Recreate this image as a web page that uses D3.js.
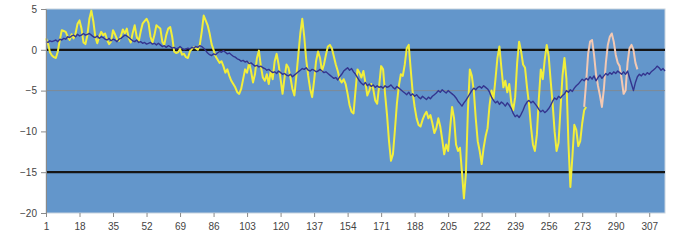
<!DOCTYPE html>
<html>
<head>
<meta charset="utf-8">
<script src="https://cdn.jsdelivr.net/npm/d3@7"></script>
<style>
  body { margin: 0; background: #fff; }
  text { font-family: "Liberation Sans", Arial, sans-serif; }
</style>
</head>
<body>
<div id="chart"></div>
<script>

const xTickLabels = [1, 18, 35, 52, 69, 86, 103, 120, 137, 154, 171, 188, 205, 222, 239, 256, 273, 290, 307];
const yTicks = [5, 0, -5, -10, -15, -20];
const boldLevels = [0, -15];
const thinLevels = [-5];
const nPoints = 315;

// yellow series, points 1..275
const yellowValues = [
  1.4, 0.8, -0.3, -0.7, -0.9, -1.0, -0.2, 1.2, 2.4, 2.3,
  2.2, 1.6, 1.2, 1.9, 1.4, 2.0, 3.2, 3.6, 2.6, 0.9,
  0.7, 1.8, 3.8, 4.8, 3.5, 1.6, 0.8, 1.6, 2.2, 1.8,
  2.0, 1.2, 0.7, 1.0, 2.4, 1.9, 1.3, 1.1, 1.7, 2.5,
  2.0, 2.6, 1.4, 0.9, 2.1, 3.0, 1.6, 1.0, 2.2, 3.2,
  3.5, 3.8, 3.3, 1.6, 0.9, 1.8, 3.0, 2.8, 2.6, 1.0,
  0.6, 1.8, 2.6, 2.8, 1.6, -0.2, -0.4, -0.3, 0.1, -0.6,
  -0.5, -0.9, -1.0, -0.2, 0.1, 0.3, 0.2, 0.0, 0.6, 2.2,
  4.2, 3.6, 3.0, 2.0, 0.7, 0.0, -0.8, -1.2, -1.6, -1.4,
  -2.0, -2.8, -2.4, -3.2, -3.8, -4.2, -4.6, -5.2, -5.4, -4.8,
  -3.6, -2.4, -2.8, -1.6, -2.6, -4.0, -3.0, -1.0, -0.1, -2.0,
  -3.4, -3.8, -3.0, -4.2, -2.6, -3.6, -1.4, -0.5, -1.8, -3.6,
  -5.4, -3.4, -1.8, -2.2, -3.4, -4.8, -5.6, -3.2, -0.6, 2.0,
  3.8, 1.6, -1.2, -3.2, -4.8, -5.8, -3.8, -1.4, -0.2, -1.0,
  -2.6, -1.8, -0.6, 0.4, 0.6, 0.2, -0.8, -1.8, -2.6, -3.6,
  -4.0, -3.6, -4.2, -5.4, -6.8, -7.6, -7.8, -5.0, -2.4, -2.8,
  -3.4, -2.6, -4.0, -5.6, -5.0, -4.2, -4.8, -6.2, -6.6, -4.4,
  -2.0, -2.4, -5.4, -8.0, -11.2, -13.6, -12.8, -9.8, -6.6, -4.4,
  -3.0, -3.2, -1.8, 0.2, 0.6, -2.4, -5.2, -7.0, -8.4, -9.2,
  -9.4, -8.6, -8.0, -7.6, -8.4, -8.0, -9.0, -10.2, -9.6, -8.4,
  -9.4, -11.0, -12.8, -11.6, -12.4, -9.6, -7.0, -8.4, -11.6, -12.4,
  -12.0, -15.0, -18.2, -15.2, -7.6, -2.4, -3.2, -5.0, -8.4, -11.2,
  -12.4, -14.0, -12.0, -10.6, -9.6, -6.8, -5.0, -6.0, -3.6, -1.0,
  0.4, -2.2, -4.6, -3.8, -5.2, -4.2, -6.4, -7.4, -5.8, -1.6,
  1.0, -0.2, -1.8, -2.2, -4.6, -6.6, -9.4, -11.6, -12.4, -10.4,
  -6.0, -2.4, -3.6, -1.2, 0.6, -0.8, -3.8, -6.6, -10.0, -12.4,
  -11.4, -7.2, -3.2, -1.0, -3.6, -11.4, -16.8, -13.2, -9.2, -9.8,
  -11.8, -11.2, -9.0, -7.4, -7.0
];

// pale pink series, points 274..301
const pinkStart = 274;
const pinkValues = [
  -7.0, -4.0, -0.5, 1.0, 1.2, -0.6, -3.0, -4.4, -5.6, -7.0,
  -4.8, -1.6, 0.6, 1.6, 2.0, 1.0, -0.6, -1.6, -2.0, -3.6,
  -5.4, -5.0, -1.6, 0.2, 0.6, 0.0, -1.6, -2.4
];

// navy smoothed series, points 1..315
const navyValues = [
  1.0, 0.9, 1.1, 1.0, 1.1, 1.2, 1.0, 1.3, 1.2, 1.4,
  1.3, 1.6, 1.5, 1.7, 1.8, 1.6, 1.9, 1.7, 1.8, 2.0,
  1.8, 1.9, 2.0, 1.8, 1.6, 1.5, 1.7, 1.4, 1.6, 1.5,
  1.3, 1.2, 1.4, 1.1, 1.3, 1.2, 1.0, 1.3, 1.4, 1.6,
  1.8, 1.7, 1.5, 1.3, 1.1, 1.0, 1.2, 0.9, 1.0, 0.8,
  0.9, 0.7, 0.8, 0.9, 0.7, 0.8, 0.6, 0.8, 0.6, 0.4,
  0.5, 0.3, 0.5, 0.4, 0.2, 0.3, 0.1, 0.2, 0.4, 0.2,
  0.0, 0.1, 0.2, 0.1, 0.3, 0.2, 0.4, 0.3, 0.5, 0.4,
  0.2, -0.1, -0.4, -0.6, -0.7, -0.5, -0.6, -0.4, -0.2, -0.3,
  -0.1, -0.3, -0.5, -0.4, -0.6, -0.8, -0.9, -1.1, -1.2, -1.4,
  -1.3, -1.5, -1.4, -1.7, -1.6, -1.8, -2.0, -1.9, -2.1, -2.0,
  -2.2, -2.3, -2.5, -2.4, -2.6, -2.8, -2.7, -2.9, -2.6, -2.8,
  -3.0, -2.9, -3.1, -3.2, -3.0, -3.3, -3.1, -2.9, -2.7, -2.5,
  -2.3, -2.4, -2.2, -2.5, -2.6, -2.4, -2.5, -2.7, -2.6, -2.4,
  -2.6, -2.8, -2.7, -2.9, -3.1, -3.3, -3.5, -3.4, -3.7, -3.3,
  -3.0, -2.6, -2.4, -2.2, -2.5, -2.3, -2.7, -3.0, -3.4, -3.8,
  -4.1, -4.3, -4.0, -4.4, -4.2, -4.5, -4.3, -4.6, -4.4, -4.6,
  -4.5, -4.7, -4.4, -4.6, -4.5, -4.3, -4.6, -4.8, -4.5, -4.7,
  -4.9, -5.1, -5.3, -5.5, -5.2, -5.6, -5.4, -5.7, -5.5, -5.8,
  -6.0, -5.7, -5.9, -6.1, -5.8, -6.0, -5.7, -5.5, -5.3, -5.0,
  -5.2, -4.9, -5.1, -5.3, -5.0, -5.2, -5.4, -5.6, -5.9, -6.3,
  -6.6, -6.9, -6.5, -6.2, -5.8, -5.4, -5.0, -4.7, -4.9, -4.6,
  -4.5, -4.7, -4.4, -4.6, -4.8, -5.2, -5.8, -6.2, -6.5, -6.3,
  -6.7, -6.4, -6.6, -6.9, -6.5, -6.8, -7.2, -7.8, -8.2, -8.0,
  -8.3, -7.9, -7.4, -6.8, -6.4, -6.2, -6.5, -6.3, -6.6, -6.9,
  -7.3, -7.6, -7.4, -7.7, -7.5, -7.2, -6.8, -6.3, -5.9, -6.1,
  -5.7, -5.9, -5.6, -5.4, -5.0, -5.2, -4.9, -5.1, -4.7, -4.4,
  -4.2, -3.9, -3.6, -3.8, -3.5, -3.7, -3.3, -3.6, -3.2, -3.8,
  -3.4, -3.1, -3.5, -3.2, -2.9, -3.1, -2.8, -3.0, -2.7, -2.9,
  -2.6, -2.8, -3.0, -2.7, -3.0, -2.6, -3.4, -4.2, -5.0, -4.0,
  -3.3, -3.0, -3.2, -2.9, -3.1, -2.8, -3.0, -2.7, -2.5, -2.3,
  -2.0, -2.2, -2.5, -2.3, -2.6
];

const W = 675, H = 241;
const margin = { top: 9, right: 10, bottom: 28, left: 46 };
const width = W - margin.left - margin.right,
      height = H - margin.top - margin.bottom;

let x = d3.scaleLinear().domain([1, nPoints]).range([0, width]);
let y = d3.scaleLinear().domain([-20, 5]).range([height, 0]);

let svg = d3.select("#chart")
  .append("svg")
  .attr("width", W)
  .attr("height", H)
  .append("g")
  .attr("transform", "translate(" + margin.left + "," + margin.top + ")");

// plot area
svg.append("rect")
  .attr("x", 0).attr("y", 0)
  .attr("width", width).attr("height", height)
  .attr("fill", "#6396cb")
  .attr("stroke", "#c8d3de")
  .attr("stroke-width", 1);

// reference lines
svg.selectAll(".thin")
  .data(thinLevels)
  .enter().append("line")
  .attr("x1", 0).attr("x2", width)
  .attr("y1", d => y(d)).attr("y2", d => y(d))
  .attr("stroke", "#7f8a96")
  .attr("stroke-width", 1);

svg.selectAll(".bold")
  .data(boldLevels)
  .enter().append("line")
  .attr("x1", 0).attr("x2", width)
  .attr("y1", d => y(d)).attr("y2", d => y(d))
  .attr("stroke", "#151515")
  .attr("stroke-width", 2.2);

let line = d3.line()
  .x(d => x(d.i))
  .y(d => y(d.v));

const yellowData = yellowValues.map((v, k) => ({ i: k + 1, v: v }));
const pinkData = pinkValues.map((v, k) => ({ i: k + pinkStart, v: v }));
const navyData = navyValues.map((v, k) => ({ i: k + 1, v: v }));

svg.append("path")
  .datum(yellowData)
  .attr("fill", "none")
  .attr("stroke", "#f2ee3a")
  .attr("stroke-width", 2)
  .attr("stroke-linejoin", "round")
  .attr("d", line);

svg.append("path")
  .datum(pinkData)
  .attr("fill", "none")
  .attr("stroke", "#f3c9b4")
  .attr("stroke-width", 2)
  .attr("stroke-linejoin", "round")
  .attr("d", line);

svg.append("path")
  .datum(navyData)
  .attr("fill", "none")
  .attr("stroke", "#34358f")
  .attr("stroke-width", 1.4)
  .attr("stroke-linejoin", "round")
  .attr("d", line);

// Y axis
let yAxis = svg.append("g")
  .call(d3.axisLeft(y).tickValues(yTicks).tickSize(5).tickPadding(4));
yAxis.select(".domain").attr("stroke", "#8a8a8a");
yAxis.selectAll(".tick line").attr("stroke", "#8a8a8a");
yAxis.selectAll("text").attr("fill", "#444").style("font-size", "10px");

// X axis
let xAxis = svg.append("g")
  .attr("transform", "translate(0," + height + ")")
  .call(d3.axisBottom(x).tickValues(xTickLabels).tickSize(4).tickPadding(6).tickFormat(d3.format("d")));
xAxis.select(".domain").remove();
xAxis.selectAll(".tick line").attr("stroke", "#8a8a8a");
xAxis.selectAll("text").attr("fill", "#444").style("font-size", "10px");

</script>
</body>
</html>
